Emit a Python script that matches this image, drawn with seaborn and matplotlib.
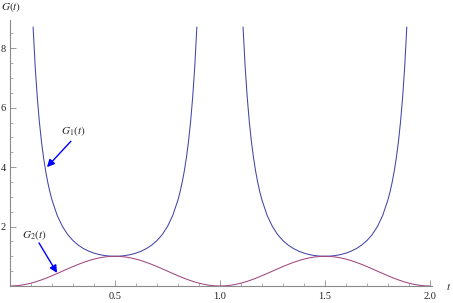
import matplotlib
matplotlib.use("Agg")
import matplotlib.pyplot as plt
import seaborn as sns
import pandas as pd

# ---- data ----
t_g1_a = [0.11, 0.12, 0.13, 0.14, 0.15, 0.16, 0.17, 0.18, 0.19, 0.20,
          0.225, 0.25, 0.275, 0.30, 0.325, 0.35, 0.375, 0.40, 0.425, 0.45, 0.475, 0.50,
          0.525, 0.55, 0.575, 0.60, 0.625, 0.65, 0.675, 0.70, 0.725, 0.75, 0.775, 0.80,
          0.81, 0.82, 0.83, 0.84, 0.85, 0.86, 0.87, 0.88, 0.89]
g1_a = [8.715, 7.379, 6.340, 5.516, 4.852, 4.309, 3.859, 3.483, 3.165, 2.894,
        2.371, 2.000, 1.729, 1.528, 1.376, 1.260, 1.172, 1.106, 1.058, 1.025, 1.006, 1.000,
        1.006, 1.025, 1.058, 1.106, 1.172, 1.260, 1.376, 1.528, 1.729, 2.000, 2.371, 2.894,
        3.165, 3.483, 3.859, 4.309, 4.852, 5.516, 6.340, 7.379, 8.715]
t_g1_b = [1.11, 1.12, 1.13, 1.14, 1.15, 1.16, 1.17, 1.18, 1.19, 1.20,
          1.225, 1.25, 1.275, 1.30, 1.325, 1.35, 1.375, 1.40, 1.425, 1.45, 1.475, 1.50,
          1.525, 1.55, 1.575, 1.60, 1.625, 1.65, 1.675, 1.70, 1.725, 1.75, 1.775, 1.80,
          1.81, 1.82, 1.83, 1.84, 1.85, 1.86, 1.87, 1.88, 1.89]
g1_b = [8.715, 7.379, 6.340, 5.516, 4.852, 4.309, 3.859, 3.483, 3.165, 2.894,
        2.371, 2.000, 1.729, 1.528, 1.376, 1.260, 1.172, 1.106, 1.058, 1.025, 1.006, 1.000,
        1.006, 1.025, 1.058, 1.106, 1.172, 1.260, 1.376, 1.528, 1.729, 2.000, 2.371, 2.894,
        3.165, 3.483, 3.859, 4.309, 4.852, 5.516, 6.340, 7.379, 8.715]

t_g2 = [0.000, 0.025, 0.050, 0.075, 0.100, 0.125, 0.150, 0.175, 0.200, 0.225,
        0.250, 0.275, 0.300, 0.325, 0.350, 0.375, 0.400, 0.425, 0.450, 0.475,
        0.500, 0.525, 0.550, 0.575, 0.600, 0.625, 0.650, 0.675, 0.700, 0.725,
        0.750, 0.775, 0.800, 0.825, 0.850, 0.875, 0.900, 0.925, 0.950, 0.975,
        1.000, 1.025, 1.050, 1.075, 1.100, 1.125, 1.150, 1.175, 1.200, 1.225,
        1.250, 1.275, 1.300, 1.325, 1.350, 1.375, 1.400, 1.425, 1.450, 1.475,
        1.500, 1.525, 1.550, 1.575, 1.600, 1.625, 1.650, 1.675, 1.700, 1.725,
        1.750, 1.775, 1.800, 1.825, 1.850, 1.875, 1.900, 1.925, 1.950, 1.975, 2.000]
g2 = [0.000, 0.006, 0.024, 0.055, 0.095, 0.146, 0.206, 0.273, 0.345, 0.422,
      0.500, 0.578, 0.655, 0.727, 0.794, 0.854, 0.905, 0.946, 0.976, 0.994,
      1.000, 0.994, 0.976, 0.946, 0.905, 0.854, 0.794, 0.727, 0.655, 0.578,
      0.500, 0.422, 0.345, 0.273, 0.206, 0.146, 0.095, 0.055, 0.024, 0.006,
      0.000, 0.006, 0.024, 0.055, 0.095, 0.146, 0.206, 0.273, 0.345, 0.422,
      0.500, 0.578, 0.655, 0.727, 0.794, 0.854, 0.905, 0.946, 0.976, 0.994,
      1.000, 0.994, 0.976, 0.946, 0.905, 0.854, 0.794, 0.727, 0.655, 0.578,
      0.500, 0.422, 0.345, 0.273, 0.206, 0.146, 0.095, 0.055, 0.024, 0.006, 0.000]

x_ticks = [0.5, 1.0, 1.5, 2.0]
x_tick_labels = ["0.5", "1.0", "1.5", "2.0"]
y_ticks = [2, 4, 6, 8]
y_tick_labels = ["2", "4", "6", "8"]

# ---- style ----
sns.set_style("ticks")
plt.rcParams["font.family"] = ["Liberation Serif", "DejaVu Serif"]
plt.rcParams["mathtext.fontset"] = "stix"

c1 = "#4444a6"
c2 = "#a04680"
axis_gray = "#8a8a8a"

fig = plt.figure(figsize=(4.53, 3.03), dpi=100)
ax = fig.add_axes([10 / 453, 17 / 303, 422 / 453, 266 / 303])

for tt, gg in ((t_g1_a, g1_a), (t_g1_b, g1_b)):
    df = pd.DataFrame({"t": tt, "G": gg})
    sns.lineplot(data=df, x="t", y="G", ax=ax, color=c1, lw=0.75,
                 sort=False, estimator=None)
df2 = pd.DataFrame({"t": t_g2, "G": g2})
sns.lineplot(data=df2, x="t", y="G", ax=ax, color=c2, lw=0.75,
             sort=False, estimator=None)

ax.set_xlim(0, 2.01)
ax.set_ylim(0, 8.95)
ax.set_xlabel("")
ax.set_ylabel("")

ax.set_xticks(x_ticks)
ax.set_xticklabels(x_tick_labels)
ax.set_yticks(y_ticks)
ax.set_yticklabels(y_tick_labels)
ax.set_xticks([i / 10 for i in range(1, 21)], minor=True)
ax.set_yticks([i / 2 for i in range(1, 18)], minor=True)

for s in ("top", "right"):
    ax.spines[s].set_visible(False)
for s in ("left", "bottom"):
    ax.spines[s].set_color(axis_gray)
    ax.spines[s].set_linewidth(0.8)

ax.tick_params(which="major", direction="in", length=4.5, width=0.6,
               color=axis_gray, labelsize=7.5, labelcolor="#222222")
ax.tick_params(which="minor", direction="in", length=2.5, width=0.5,
               color=axis_gray)
ax.tick_params(axis="x", which="major", pad=4)
ax.tick_params(axis="y", which="major", pad=3)

# annotations
arrow_kw = dict(arrowstyle="-|>", color="#0000ff", lw=1.0,
                mutation_scale=11, shrinkA=0, shrinkB=0)
ax.annotate("", xy=(0.176, 4.0), xytext=(0.290, 4.87), arrowprops=arrow_kw)
ax.text(0.30, 5.21, r"$G_1(t)$", ha="center", va="center", fontsize=8)
ax.annotate("", xy=(0.224, 0.44), xytext=(0.138, 1.45), arrowprops=arrow_kw)
ax.text(0.114, 1.71, r"$G_2(t)$", ha="center", va="center", fontsize=8)

# axis labels
fig.text(1 / 453, 1 - 7 / 303, r"$G(t)$", ha="left", va="center", fontsize=8)
fig.text(449 / 453, 1 - 286 / 303, r"$t$", ha="center", va="center", fontsize=8)

fig.savefig("out.png", dpi=100, facecolor="white")
